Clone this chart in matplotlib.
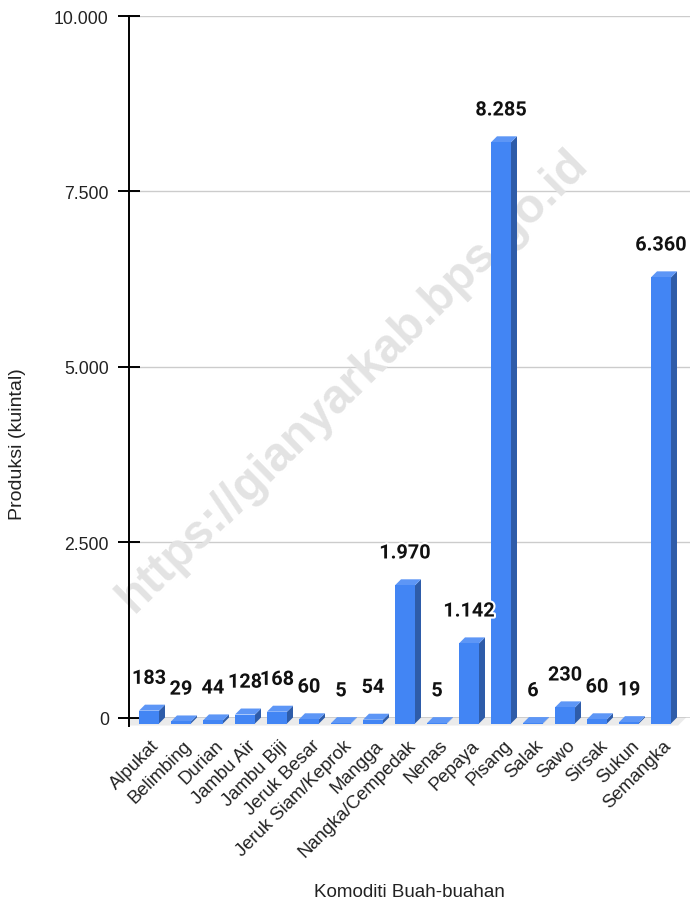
import matplotlib
matplotlib.use("Agg")
import matplotlib.pyplot as plt
import matplotlib.patheffects as pe
from matplotlib.patches import Polygon

categories = ['Alpukat', 'Belimbing', 'Durian', 'Jambu Air', 'Jambu Biji', 'Jeruk Besar',
              'Jeruk Siam/Keprok', 'Mangga', 'Nangka/Cempedak', 'Nenas', 'Pepaya', 'Pisang',
              'Salak', 'Sawo', 'Sirsak', 'Sukun', 'Semangka']
values = [183, 29, 44, 128, 168, 60, 5, 54, 1970, 5, 1142, 8285, 6, 230, 60, 19, 6360]
yticks = [0, 2500, 5000, 7500, 10000]

W, H, DPI = 691, 904, 100
fig = plt.figure(figsize=(W / DPI, H / DPI), dpi=DPI)

# axes placed in pixels: left 129, right 690, zero line 718.5, top 17
ax = fig.add_axes([129 / W, 1 - 718.5 / H, 561 / W, 701.5 / H])
ax.set_xlim(-0.8125, -0.8125 + 561 / 32)
ax.set_ylim(0, 10000)

px_x = 561 / (ax.get_xlim()[1] - ax.get_xlim()[0])
px_y = 701.5 / 10000
ddx = 6 / px_x      # depth offset of the bar front face
ddy = 6 / px_y
fdx = 8 / px_x      # depth of the floor
fdy = 8 / px_y
w = 20 / px_x

front_c = '#4285f4'
side_c = '#2e5ca9'
top_c = '#5d96f6'

for s in ['top', 'right', 'bottom']:
    ax.spines[s].set_visible(False)
ax.spines['left'].set_bounds(-fdy, 10000)
ax.spines['left'].set_linewidth(1.4)

for t in yticks[1:]:
    ax.axhline(t, color='#cccccc', lw=1.0, zorder=1)

# floor
x0, x1 = ax.get_xlim()
ax.add_patch(Polygon([(x0, 0), (x1 - 0.12, 0), (x1 - 0.12 - fdx, -fdy), (x0, -fdy)],
                     closed=True, facecolor='#ebebeb', edgecolor='none', zorder=1, clip_on=False))
ax.axhline(0, color='#333333', lw=1.0, zorder=2)

fnum = lambda v: f'{v:,}'.replace(',', '.')

for i, v in enumerate(values):
    l, r = i - w / 2, i + w / 2
    front = [(l - ddx, -ddy), (r - ddx, -ddy), (r - ddx, v - ddy), (l - ddx, v - ddy)]
    side = [(r - ddx, -ddy), (r, 0), (r, v), (r - ddx, v - ddy)]
    top = [(l - ddx, v - ddy), (l, v), (r, v), (r - ddx, v - ddy)]
    ax.add_patch(Polygon(side, closed=True, facecolor=side_c, edgecolor='none', zorder=3, clip_on=False))
    ax.add_patch(Polygon(top, closed=True, facecolor=top_c, edgecolor='none', zorder=3, clip_on=False))
    ax.add_patch(Polygon(front, closed=True, facecolor=front_c, edgecolor='none', zorder=3, clip_on=False))
    ax.annotate(fnum(v), xy=(i - ddx, v), xytext=(0, 15), textcoords='offset points',
                ha='center', va='baseline', fontsize=14.3, fontweight='bold',
                family='Roboto', color='#111111', zorder=5,
                path_effects=[pe.withStroke(linewidth=3, foreground='white')])

ax.set_yticks(yticks)
ax.set_yticklabels([fnum(t) for t in yticks], family='Liberation Sans', fontsize=12.7, color='#222222')
ax.tick_params(axis='y', direction='inout', length=16, width=1.4, pad=6.5)
ax.set_xticks([])

xtr = ax.get_xaxis_transform()
for i, c in enumerate(categories):
    ax.text(i + 0.06, -25 / 701.5, c, transform=xtr, rotation=45, rotation_mode='anchor',
            ha='right', va='center', fontsize=13.3, family='Liberation Sans', color='#222222')

fig.text(409 / W, 1 - 893 / H, 'Komoditi Buah-buahan', ha='center', va='center',
         fontsize=13.5, family='Liberation Sans', color='#222222')
fig.text(18 / W, 1 - 444 / H, 'Produksi (kuintal)', ha='center', va='center', rotation=90,
         fontsize=14, family='Liberation Sans', color='#222222')

# watermark
ax.text(353 / W, 1 - 381 / H, 'https://gianyarkab.bps.go.id', transform=fig.transFigure,
        rotation=44.5, ha='center', va='center', fontsize=34.5, fontweight='bold',
        family='Liberation Sans', color='#e3e3e3', zorder=1.5, clip_on=False)

fig.savefig('out.png', dpi=DPI)
